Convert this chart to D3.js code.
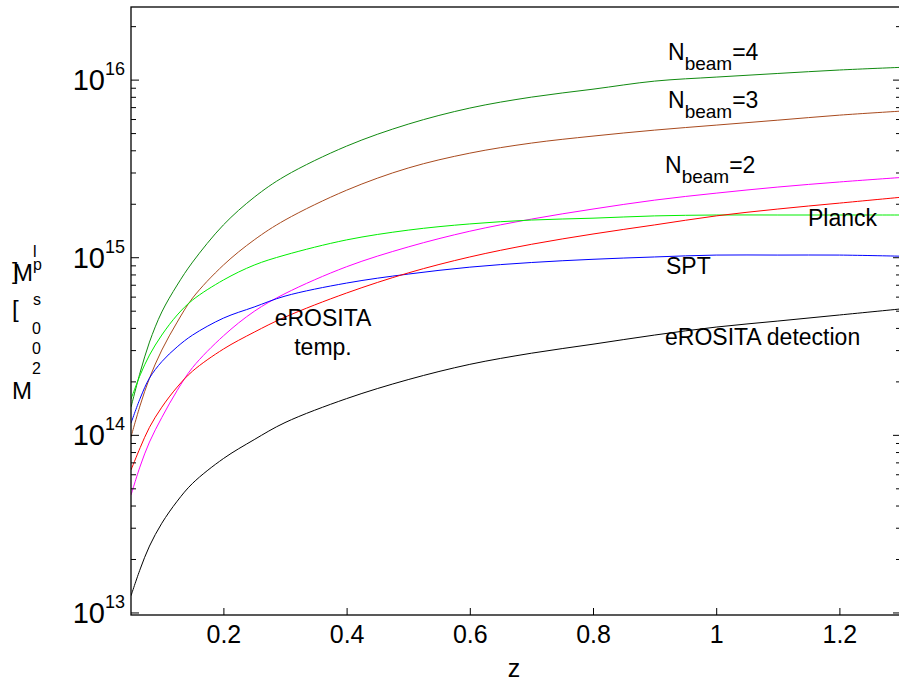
<!DOCTYPE html>
<html>
<head>
<meta charset="utf-8">
<script src="https://cdn.jsdelivr.net/npm/d3@7"></script>
<style>
  html, body { margin: 0; padding: 0; background: #fff; }
  svg { display: block; font-family: "Liberation Sans", Arial, Helvetica, sans-serif; }
</style>
</head>
<body>
<svg id="chart" width="899" height="682"></svg>
<script>
// Redshift grid shared by all limit curves
const redshifts = [0.05, 0.065, 0.08, 0.1, 0.125, 0.15, 0.2, 0.25, 0.3, 0.4, 0.5, 0.6, 0.7, 0.8, 0.9, 1.0, 1.1, 1.2, 1.3];

// Limiting mass (solar masses) per survey / configuration
const nbeam4 = [1.44e14, 2.27e14, 3.35e14, 4.95e14, 7.02e14, 9.45e14, 1.53e15, 2.19e15, 2.88e15, 4.25e15, 5.65e15, 6.96e15, 8.02e15, 8.89e15, 9.87e15, 1.04e16, 1.09e16, 1.14e16, 1.18e16];
const nbeam3 = [9.79e13, 1.48e14, 2.10e14, 3.02e14, 4.34e14, 5.93e14, 9.09e14, 1.26e15, 1.63e15, 2.40e15, 3.20e15, 3.88e15, 4.42e15, 4.84e15, 5.23e15, 5.58e15, 5.95e15, 6.35e15, 6.69e15];
const nbeam2 = [4.61e13, 6.72e13, 9.17e13, 1.26e14, 1.79e14, 2.41e14, 3.63e14, 4.99e14, 6.28e14, 8.90e14, 1.15e15, 1.41e15, 1.65e15, 1.88e15, 2.11e15, 2.31e15, 2.50e15, 2.67e15, 2.83e15];
const planck = [1.60e14, 2.19e14, 2.83e14, 3.67e14, 4.76e14, 5.78e14, 7.49e14, 9.09e14, 1.035e15, 1.26e15, 1.43e15, 1.55e15, 1.63e15, 1.67e15, 1.72e15, 1.74e15, 1.74e15, 1.74e15, 1.74e15];
const spt = [1.17e14, 1.62e14, 2.10e14, 2.60e14, 3.15e14, 3.67e14, 4.57e14, 5.28e14, 6.08e14, 7.20e14, 8.09e14, 8.85e14, 9.40e14, 9.80e14, 1.01e15, 1.035e15, 1.035e15, 1.035e15, 1.02e15];
const erositaTemp = [6.38e13, 8.54e13, 1.11e14, 1.44e14, 1.87e14, 2.30e14, 3.06e14, 3.81e14, 4.63e14, 6.33e14, 8.21e14, 1.01e15, 1.19e15, 1.36e15, 1.53e15, 1.72e15, 1.88e15, 2.03e15, 2.19e15];
const erositaDet = [1.25e13, 1.77e13, 2.38e13, 3.20e13, 4.26e13, 5.37e13, 7.40e13, 9.46e13, 1.18e14, 1.61e14, 2.06e14, 2.51e14, 2.90e14, 3.26e14, 3.67e14, 4.07e14, 4.40e14, 4.76e14, 5.15e14];

const xTicks = [0.2, 0.4, 0.6, 0.8, 1, 1.2];
const xTickLabels = ["0.2", "0.4", "0.6", "0.8", "1", "1.2"];
const yDecades = [13, 14, 15, 16];

const series = [
  { values: nbeam4, color: "#108a10" },
  { values: nbeam3, color: "#a84a1e" },
  { values: nbeam2, color: "#ff00ff" },
  { values: planck, color: "#00ee00" },
  { values: spt, color: "#0000ff" },
  { values: erositaTemp, color: "#ff0000" },
  { values: erositaDet, color: "#000000" }
];

const svg = d3.select("#chart");
const plotLeft = 131, plotRight = 901, plotTop = 7, plotBottom = 615;

const x = d3.scaleLinear().domain([0.05, 1.3]).range([plotLeft, plotRight]);
const y = d3.scaleLog().domain([9.74e12, 2.58e16]).range([plotBottom, plotTop]);

// clip for curves
svg.append("defs").append("clipPath").attr("id", "plotclip")
  .append("rect").attr("x", plotLeft).attr("y", plotTop)
  .attr("width", plotRight - plotLeft).attr("height", plotBottom - plotTop);

const line = d3.line()
  .x((d, i) => x(redshifts[i]))
  .y(d => y(d))
  .curve(d3.curveCatmullRom.alpha(0.5));

const g = svg.append("g").attr("clip-path", "url(#plotclip)");
series.forEach(s => {
  g.append("path")
    .datum(s.values)
    .attr("d", line)
    .attr("fill", "none")
    .attr("stroke", s.color)
    .attr("stroke-width", 1);
});

// frame
svg.append("rect")
  .attr("x", plotLeft).attr("y", plotTop)
  .attr("width", plotRight - plotLeft).attr("height", plotBottom - plotTop)
  .attr("fill", "none").attr("stroke", "#000").attr("stroke-width", 1.3);

// x ticks (inward) and labels
const xAxis = d3.axisBottom(x).tickValues(xTicks).tickSize(-7).tickFormat((d, i) => xTickLabels[i]);
const gx = svg.append("g").attr("transform", `translate(0,${plotBottom})`).call(xAxis);
gx.select(".domain").remove();
gx.selectAll(".tick line").attr("stroke", "#000");
gx.selectAll(".tick text")
  .attr("y", 28).attr("dy", 0)
  .attr("font-size", 25)
  .attr("font-family", "Liberation Sans, Arial, sans-serif")
  .attr("fill", "#000");

// y ticks: major decades and minor ticks, on both vertical sides
const minorVals = [];
yDecades.forEach(e => {
  for (let k = 2; k <= 9; k++) minorVals.push(k * Math.pow(10, e));
});
const yMinor = minorVals.filter(v => y(v) >= plotTop && y(v) <= plotBottom);
const yMajor = yDecades.map(e => Math.pow(10, e));

const ticks = svg.append("g").attr("stroke", "#000").attr("stroke-width", 1);
[[plotLeft, 1], [plotRight, -1]].forEach(([x0, dir]) => {
  yMajor.forEach(v => {
    ticks.append("line").attr("x1", x0).attr("x2", x0 + dir * 8)
      .attr("y1", y(v)).attr("y2", y(v));
  });
  yMinor.forEach(v => {
    ticks.append("line").attr("x1", x0).attr("x2", x0 + dir * 5)
      .attr("y1", y(v)).attr("y2", y(v));
  });
});

// y tick labels as 10^n
yDecades.forEach(e => {
  const t = svg.append("text")
    .attr("x", 125).attr("y", y(Math.pow(10, e)) + 10)
    .attr("text-anchor", "end")
    .attr("fill", "#000");
  t.append("tspan").attr("font-size", 29).text("10");
  t.append("tspan").attr("font-size", 18).attr("dy", -15).text(String(e));
});

// x axis title
svg.append("text").attr("x", 514).attr("y", 677)
  .attr("text-anchor", "middle").attr("font-size", 25).attr("fill", "#000").text("z");

// y axis title, drawn glyph by glyph
const yTitle = [
  { t: "]", x: 12, y: 279, s: 24 },
  { t: "M", x: 13, y: 281, s: 24 },
  { t: "l", x: 33, y: 257, s: 16 },
  { t: "p", x: 33, y: 270, s: 16 },
  { t: "s", x: 33, y: 305, s: 16 },
  { t: "[", x: 12, y: 317, s: 24 },
  { t: "0", x: 32, y: 334, s: 16 },
  { t: "0", x: 32, y: 354, s: 16 },
  { t: "2", x: 32, y: 374, s: 16 },
  { t: "M", x: 12, y: 399, s: 24 }
];
yTitle.forEach(c => {
  svg.append("text").attr("x", c.x).attr("y", c.y)
    .attr("font-size", c.s).attr("fill", "#000").text(c.t);
});

// curve labels
function nbeamLabel(xp, yp, n) {
  const t = svg.append("text").attr("x", xp).attr("y", yp).attr("fill", "#000").attr("font-size", 23);
  t.append("tspan").text("N");
  t.append("tspan").attr("font-size", 19).attr("dy", 10).text("beam");
  t.append("tspan").attr("dy", -10).text("=" + n);
}
nbeamLabel(668, 60, 4);
nbeamLabel(668, 108, 3);
nbeamLabel(665, 173, 2);

const labels = [
  { t: "Planck", x: 808, y: 226 },
  { t: "SPT", x: 666, y: 274 },
  { t: "eROSITA detection", x: 665, y: 345 },
  { t: "eROSITA", x: 323, y: 326, anchor: "middle" },
  { t: "temp.", x: 323, y: 355, anchor: "middle" }
];
labels.forEach(l => {
  svg.append("text").attr("x", l.x).attr("y", l.y)
    .attr("text-anchor", l.anchor || "start")
    .attr("font-size", 23).attr("fill", "#000").text(l.t);
});
</script>
</body>
</html>
